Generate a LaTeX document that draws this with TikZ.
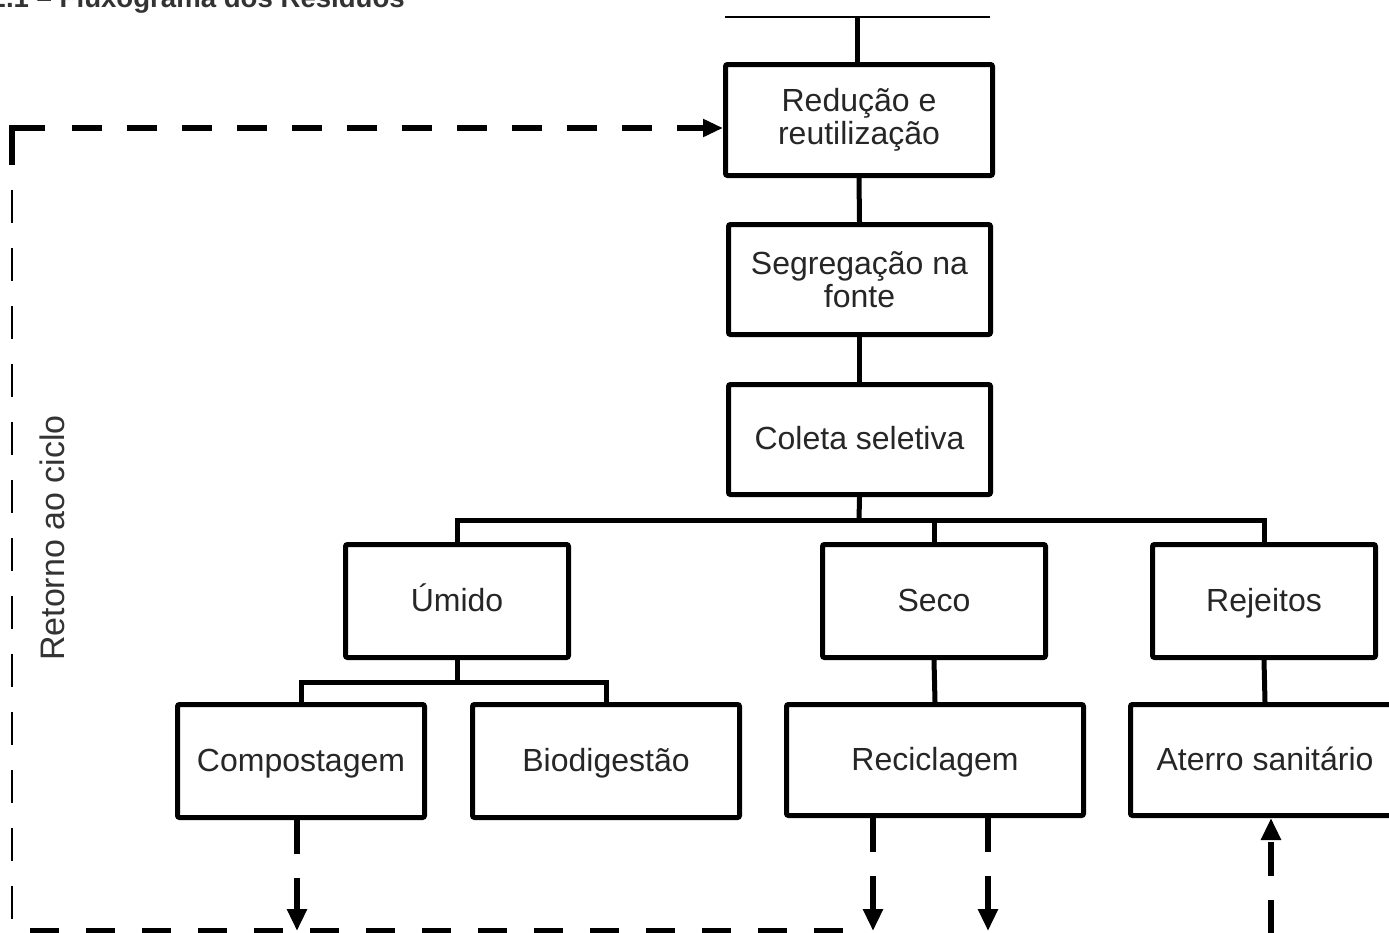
\documentclass[tikz,border=0pt]{standalone}
\usepackage{fontspec}
\setmainfont{Liberation Sans}
\usetikzlibrary{arrows.meta}
\begin{document}
\begin{tikzpicture}[x=1pt,y=-1pt,
  box/.style={draw=black, line width=5pt, rounded corners=2pt, fill=white, align=center,
    text=black!85, font=\fontsize{32}{33}\selectfont, inner sep=0pt},
  single/.style={text height=24pt, text depth=4pt},
  conn/.style={line width=5pt, draw=black},
  fbthick/.style={line width=6pt, dash pattern=on 30pt off 25pt, -{Triangle[length=20pt,width=17pt]}},
  fbthin/.style={line width=2.5pt, dash pattern=on 33pt off 25pt},
  fbbottom/.style={line width=7pt, dash pattern=on 29pt off 27pt},
  arr/.style={line width=6pt, dash pattern=on 34pt off 24pt, -{Triangle[length=22pt,width=19pt]}},
]
\useasboundingbox (0,0) rectangle (1389,932);
\clip (0,0) rectangle (1389,932);
\fill[white] (0,0) rectangle (1389,932);

% title (cut off at the top)
\node[anchor=base east, inner sep=0pt, font=\bfseries\fontsize{27.6}{30}\selectfont, text=black!80] (title) at (405,7) {Figura 2.1 – Fluxograma dos Resíduos};

% boxes
\node[box, minimum width=267pt, minimum height=111pt] (red) at (859,120) {Redução e\\reutilização};
\node[box, minimum width=262pt, minimum height=110pt] (seg) at (859.5,279.5) {Segregação na\\fonte};
\node[box, single, minimum width=262pt, minimum height=110pt] (col) at (859.5,439.5) {Coleta seletiva};
\node[box, single, minimum width=223pt, minimum height=113pt] (umi) at (457,601) {Úmido};
\node[box, single, minimum width=223pt, minimum height=113pt] (seco) at (934,601) {Seco};
\node[box, single, minimum width=223pt, minimum height=113pt] (rej) at (1264,601) {Rejeitos};
\node[box, single, minimum width=247pt, minimum height=113pt] (comp) at (301,761) {Compostagem};
\node[box, single, minimum width=267pt, minimum height=113pt] (bio) at (606,761) {Biodigestão};
\node[box, single, minimum width=297pt, minimum height=111pt] (rec) at (935,760) {Reciclagem};
\node[box, single, minimum width=269pt, minimum height=111pt] (ate) at (1265,760) {Aterro sanitário};

% side label
\node[rotate=90, font=\fontsize{34}{40}\selectfont, text=black!80] (ret) at (52,538) {Retorno ao ciclo};

% top line and solid connectors
\coordinate (topL) at (725,17);
\coordinate (topR) at (990,17);
\coordinate (topC) at (857,17);
\draw[line width=2pt] (topL) -- (topR);
\draw[conn] (topC) -- (topC |- red.north);
\draw[conn] (red.south) -- (seg.north);
\draw[conn] (seg.south) -- (col.north);
\coordinate (bar1) at (859,520);
\draw[conn] (col.south) -- (bar1);
\draw[conn] (umi.north) |- (bar1) -| (rej.north);
\draw[conn] (seco.north) -- (seco.north |- bar1);
\coordinate (bar2) at (457,682);
\draw[conn] (umi.south) -- (bar2);
\draw[conn] (comp.north) |- (bar2) -| (bio.north);
\draw[conn] (seco.south) -- (rec.north);
\draw[conn] (rej.south) -- (ate.north);

% feedback loop (dashed)
\coordinate (cornerLow) at (12,165);
\coordinate (corner) at (12,128);
\coordinate (cornerR) at (45,128);
\coordinate (hstart) at (72,128);
\draw[line width=6pt] (cornerLow) -- (corner) -- (cornerR);
\draw[fbthick] (hstart) -- (hstart -| red.west);
\coordinate (vtop) at (12,190);
\coordinate (vbot) at (12,940);
\draw[fbthin] (vtop) -- (vbot);
\coordinate (bL) at (30,931);
\coordinate (bR) at (860,931);
\draw[fbbottom] (bL) -- (bR);
\coordinate (bL2) at (990,935);
\coordinate (bR2) at (1012,935);
\draw[line width=5pt, black!60] (bL2) -- (bR2);

% arrows out of the lower boxes
\coordinate (a1) at (297,931);
\coordinate (a2) at (873,931);
\coordinate (a3) at (988,931);
\coordinate (a4) at (1271,934);
\draw[arr] (a1 |- comp.south) -- (a1);
\draw[arr] (a2 |- rec.south) -- (a2);
\draw[arr] (a3 |- rec.south) -- (a3);
\draw[arr] (a4) -- (a4 |- ate.south);
\end{tikzpicture}
\end{document}
